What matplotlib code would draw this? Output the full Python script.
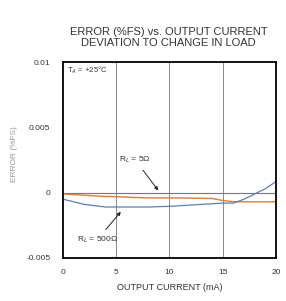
import matplotlib
matplotlib.use("Agg")
import matplotlib.pyplot as plt

plt.rcParams['font.family'] = ['Liberation Sans', 'DejaVu Sans']

# output current (mA)
current = [0, 1, 2, 3, 4, 5, 6, 8, 10, 12, 14, 15, 16, 17, 18, 19, 20]
# R_L = 5 ohm
err_5 = [-0.0001, -0.00015, -0.0002, -0.00025, -0.0003, -0.0003, -0.00035, -0.0004, -0.0004,
         -0.00042, -0.00045, -0.0006, -0.0007, -0.0007, -0.0007, -0.0007, -0.0007]
# R_L = 500 ohm
err_500 = [-0.0005, -0.0007, -0.0009, -0.001, -0.0011, -0.0011, -0.0011, -0.0011, -0.00105,
           -0.00095, -0.00085, -0.0008, -0.0008, -0.0005, -0.0001, 0.0003, 0.00085]

xticks = [0, 5, 10, 15, 20]
yticks = [-0.005, 0, 0.005, 0.01]
ytick_labels = ["-0.005", "0", "0.005", "0.01"]

fig = plt.figure(figsize=(2.86, 3.01), dpi=100)
ax = fig.add_axes([0.220, 0.143, 0.745, 0.651])

ax.plot(current, err_5, color="#e07b39", lw=1.0)
ax.plot(current, err_500, color="#5b7fb5", lw=0.9)

for xv in [5, 10, 15]:
    ax.axvline(xv, color="#888888", lw=0.7, zorder=0)
ax.axhline(0, color="#777777", lw=0.8, zorder=0)

ax.set_xlim(0, 20)
ax.set_ylim(-0.005, 0.01)
ax.set_xticks(xticks)
ax.set_xticklabels([str(t) for t in xticks])
ax.set_yticks(yticks)
ax.set_yticklabels(ytick_labels)
ax.tick_params(axis="y", length=0, labelsize=6, pad=9, colors="#333333")
ax.tick_params(axis="x", length=0, labelsize=6, pad=8, colors="#333333")
for s in ax.spines.values():
    s.set_linewidth(1.3)

ax.set_xlabel("OUTPUT CURRENT (mA)", fontsize=6.5, color="#333333", labelpad=5)
ax.set_ylabel("ERROR (%FS)", fontsize=6, color="#999999")
ax.yaxis.set_label_coords(-0.21, 0.53)

fig.text(0.59, 0.894, "ERROR (%FS) vs. OUTPUT CURRENT", ha="center", va="center",
         fontsize=8, color="#333333")
fig.text(0.59, 0.857, "DEVIATION TO CHANGE IN LOAD", ha="center", va="center",
         fontsize=8, color="#333333")

ax.text(0.4, 0.0092, r"T$_A$ = +25°C", fontsize=5.5, color="#333333")
ax.annotate(r"R$_L$ = 5Ω", xy=(9.1, 0.0), xytext=(5.3, 0.0025),
            fontsize=6, color="#333333", va="center",
            arrowprops=dict(arrowstyle="-|>", color="#222222", lw=0.7, mutation_scale=5,
                            shrinkA=2))
ax.annotate(r"R$_L$ = 500Ω", xy=(5.6, -0.0013), xytext=(1.3, -0.0036),
            fontsize=6, color="#333333", va="center",
            arrowprops=dict(arrowstyle="-|>", color="#222222", lw=0.7, mutation_scale=5,
                            shrinkA=2))

fig.savefig("out.png", dpi=100)
